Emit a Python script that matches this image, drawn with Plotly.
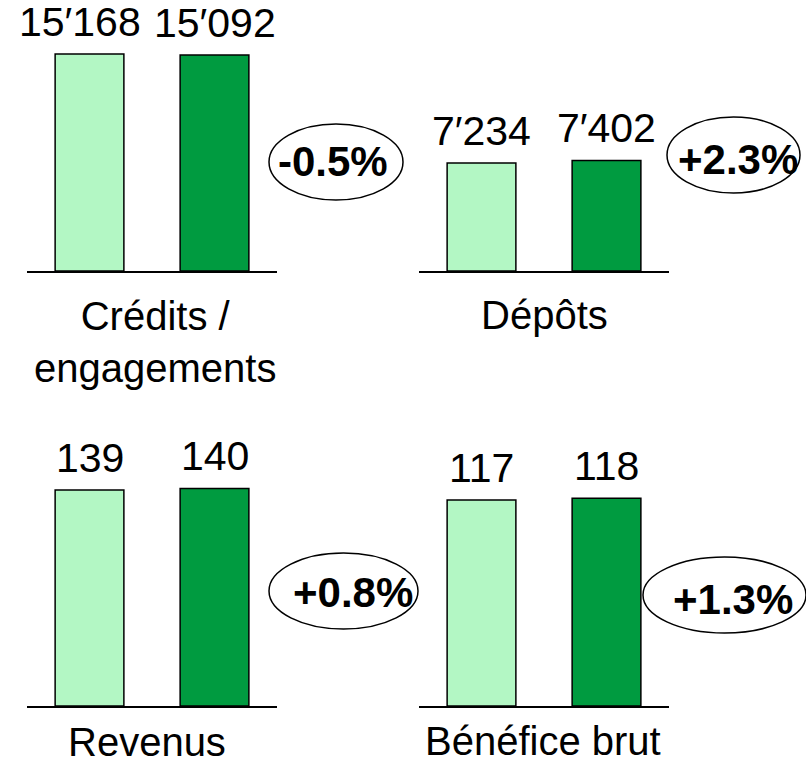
import plotly.graph_objects as go

# ---- data ----
panel_titles = ["Crédits /<br>engagements", "Dépôts", "Revenus", "Bénéfice brut"]
values_prev = [15168, 7234, 139, 117]
values_curr = [15092, 7402, 140, 118]
changes = ["-0.5%", "+2.3%", "+0.8%", "+1.3%"]

W, H = 806, 766
LIGHT = "#B3F7C4"
DARK = "#009B40"
FONT = "Arial, Liberation Sans, sans-serif"


def fx(px):
    return px / W


def fy(py):
    return 1 - py / H


def fmt(v):
    return f"{v:,}".replace(",", "\u2032")


# panel geometry (screen pixels): x0, x1, ytop, ybottom, yrange max
panels = [
    dict(x0=27, x1=277, yt=12, yb=271, ymax=18104),
    dict(x0=419, x1=669, yt=12, yb=271, ymax=17347),
    dict(x0=27, x1=277, yt=442, yb=706, ymax=169.9),
    dict(x0=419, x1=669, yt=442, yb=706, ymax=149.9),
]
# per-label horizontal nudges (px) for value labels
label_xshift = [[-10, 0], [0, 0], [0, 0], [0, 0]]
ellipses = [
    dict(x0=269, x1=403, y0=124, y1=200, tx=333, ty=161),
    dict(x0=667, x1=800, y0=117, y1=193, tx=738, ty=159),
    dict(x0=269, x1=418, y0=553, y1=629, tx=353, ty=592),
    dict(x0=643, x1=806, y0=557, y1=633, tx=733, ty=599),
]
title_pos = [(155, 342), (544, 315), (147, 742), (543, 741)]

fig = go.Figure()
annotations = []
shapes = []
layout = {}

for i, p in enumerate(panels):
    sfx = "" if i == 0 else str(i + 1)
    xa, ya = "x" + sfx, "y" + sfx
    fig.add_trace(go.Bar(
        x=[0, 1], y=[values_prev[i], values_curr[i]],
        width=0.55,
        marker=dict(color=[LIGHT, DARK], line=dict(color="black", width=1.5)),
        xaxis=xa, yaxis=ya, showlegend=False, hoverinfo="skip",
    ))
    layout["xaxis" + sfx] = dict(
        domain=[fx(p["x0"]), fx(p["x1"])], range=[-0.5, 1.5],
        showgrid=False, zeroline=False, showticklabels=False, ticks="",
        showline=True, linecolor="black", linewidth=2, anchor=ya, fixedrange=True,
    )
    layout["yaxis" + sfx] = dict(
        domain=[fy(p["yb"]), fy(p["yt"])], range=[0, p["ymax"]],
        showgrid=False, zeroline=False, showticklabels=False, ticks="",
        showline=False, anchor=xa, fixedrange=True,
    )
    for j, (xv, v) in enumerate(zip([0, 1], [values_prev[i], values_curr[i]])):
        annotations.append(dict(
            x=xv, y=v, xref=xa, yref=ya, text=fmt(v), showarrow=False,
            yanchor="bottom", yshift=7, xshift=label_xshift[i][j],
            font=dict(family=FONT, size=41, color="black"),
        ))
    tx, ty = title_pos[i]
    annotations.append(dict(
        x=fx(tx), y=fy(ty), xref="paper", yref="paper", text=panel_titles[i],
        showarrow=False, xanchor="center", yanchor="middle",
        font=dict(family=FONT, size=40, color="black"),
    ))
    e = ellipses[i]
    shapes.append(dict(
        type="circle", xref="paper", yref="paper",
        x0=fx(e["x0"]), x1=fx(e["x1"]), y0=fy(e["y1"]), y1=fy(e["y0"]),
        line=dict(color="black", width=1.5), fillcolor="rgba(0,0,0,0)",
    ))
    annotations.append(dict(
        x=fx(e["tx"]), y=fy(e["ty"]), xref="paper", yref="paper",
        text="<b>" + changes[i] + "</b>", showarrow=False,
        xanchor="center", yanchor="middle",
        font=dict(family=FONT, size=42, color="black"),
    ))

fig.update_layout(
    width=W, height=H, margin=dict(l=0, r=0, t=0, b=0),
    paper_bgcolor="white", plot_bgcolor="white",
    annotations=annotations, shapes=shapes, bargap=0,
    **layout,
)

fig.write_html(
    "out.html",
    config={"displayModeBar": False, "staticPlot": True},
    post_script="document.body.style.margin='0';",
)
